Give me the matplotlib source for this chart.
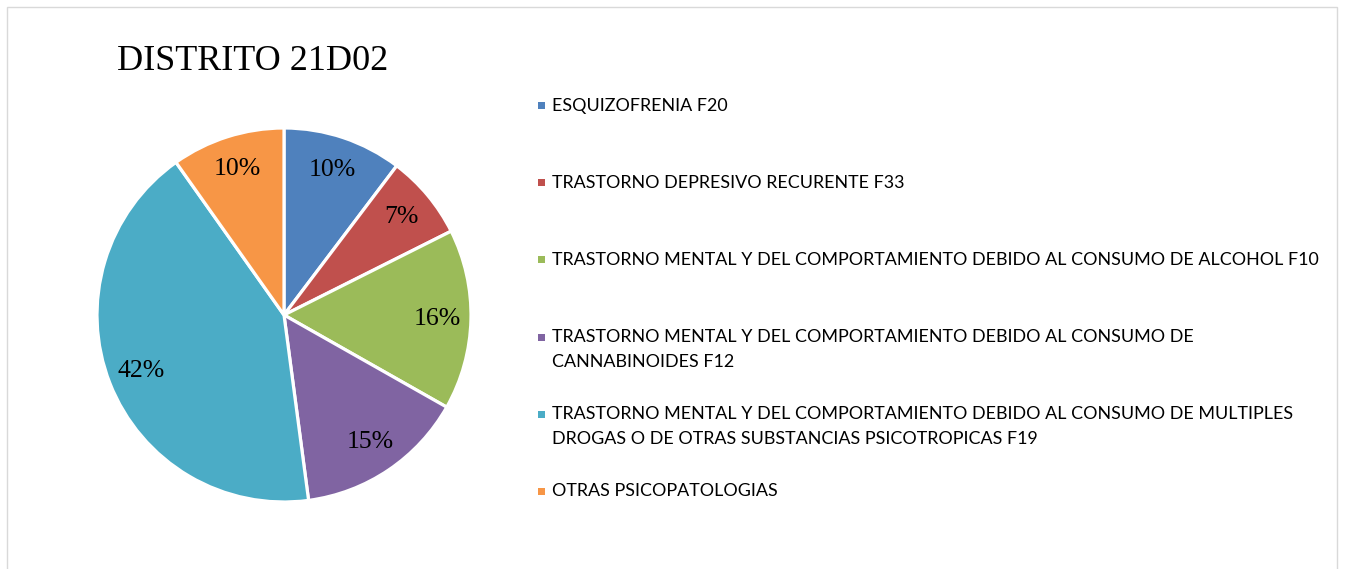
import matplotlib
matplotlib.use("Agg")
import matplotlib.pyplot as plt
from matplotlib.patches import Rectangle

## chart data (slice shares, labels rounded like the original)
title = "DISTRITO 21D02"
categories = [
    "ESQUIZOFRENIA F20",
    "TRASTORNO DEPRESIVO RECURENTE F33",
    "TRASTORNO MENTAL Y DEL COMPORTAMIENTO DEBIDO AL CONSUMO DE ALCOHOL F10",
    "TRASTORNO MENTAL Y DEL COMPORTAMIENTO DEBIDO AL CONSUMO DE\nCANNABINOIDES F12",
    "TRASTORNO MENTAL Y DEL COMPORTAMIENTO DEBIDO AL CONSUMO DE MULTIPLES\nDROGAS O DE OTRAS SUBSTANCIAS PSICOTROPICAS F19",
    "OTRAS PSICOPATOLOGIAS",
]
shares = [10.3, 7.3, 15.6, 14.7, 42.3, 9.8]
colors = ["#4F81BD", "#C0504D", "#9BBB59", "#8064A2", "#4BACC6", "#F79646"]

W, H = 1345, 569
fig = plt.figure(figsize=(W / 100, H / 100), dpi=100)
fig.patch.set_facecolor("white")

## light frame around the chart area (bottom runs off the picture)
fig.add_artist(Rectangle((7 / W, -0.05), (1337 - 7) / W, 1.05 - 7 / H,
                         transform=fig.transFigure, fill=False,
                         edgecolor="#D9D9D9", linewidth=1.0))

## pie placed by pixel center / radius
cx, cy, r = 284, 315, 187
ax = fig.add_axes([(cx - r) / W, (H - cy - r) / H, 2 * r / W, 2 * r / H])
wedges, texts, autotexts = ax.pie(
    shares, colors=colors, startangle=90, counterclock=False,
    autopct=lambda p: f"{p:.0f}%", pctdistance=0.82,
    wedgeprops=dict(edgecolor="white", linewidth=2.3),
    textprops=dict(fontsize=18.5, family="Liberation Serif", color="black"),
)
ax.set_xlim(-1, 1)
ax.set_ylim(-1, 1)
ax.set_aspect("equal")
ax.axis("off")
for w in wedges:
    w.set_clip_on(False)

fig.text(117 / W, 1 - 61 / H, title, fontsize=26, family="Liberation Serif",
         va="center", ha="left")

## legend drawn by hand so the rows keep the even spacing of the original
y0, step, sq = 105.5, 77.2, 7
for i, (lab, w) in enumerate(zip(categories, wedges)):
    y = y0 + i * step
    fig.add_artist(Rectangle(((541 - sq / 2) / W, 1 - (y + sq / 2) / H), sq / W, sq / H,
                             transform=fig.transFigure, facecolor=w.get_facecolor(),
                             edgecolor="none"))
    fig.text(552 / W, 1 - (y - 8) / H, lab, fontsize=12.9, family="Lato",
             va="top", ha="left", linespacing=1.7)

fig.savefig("out.png", dpi=100)
